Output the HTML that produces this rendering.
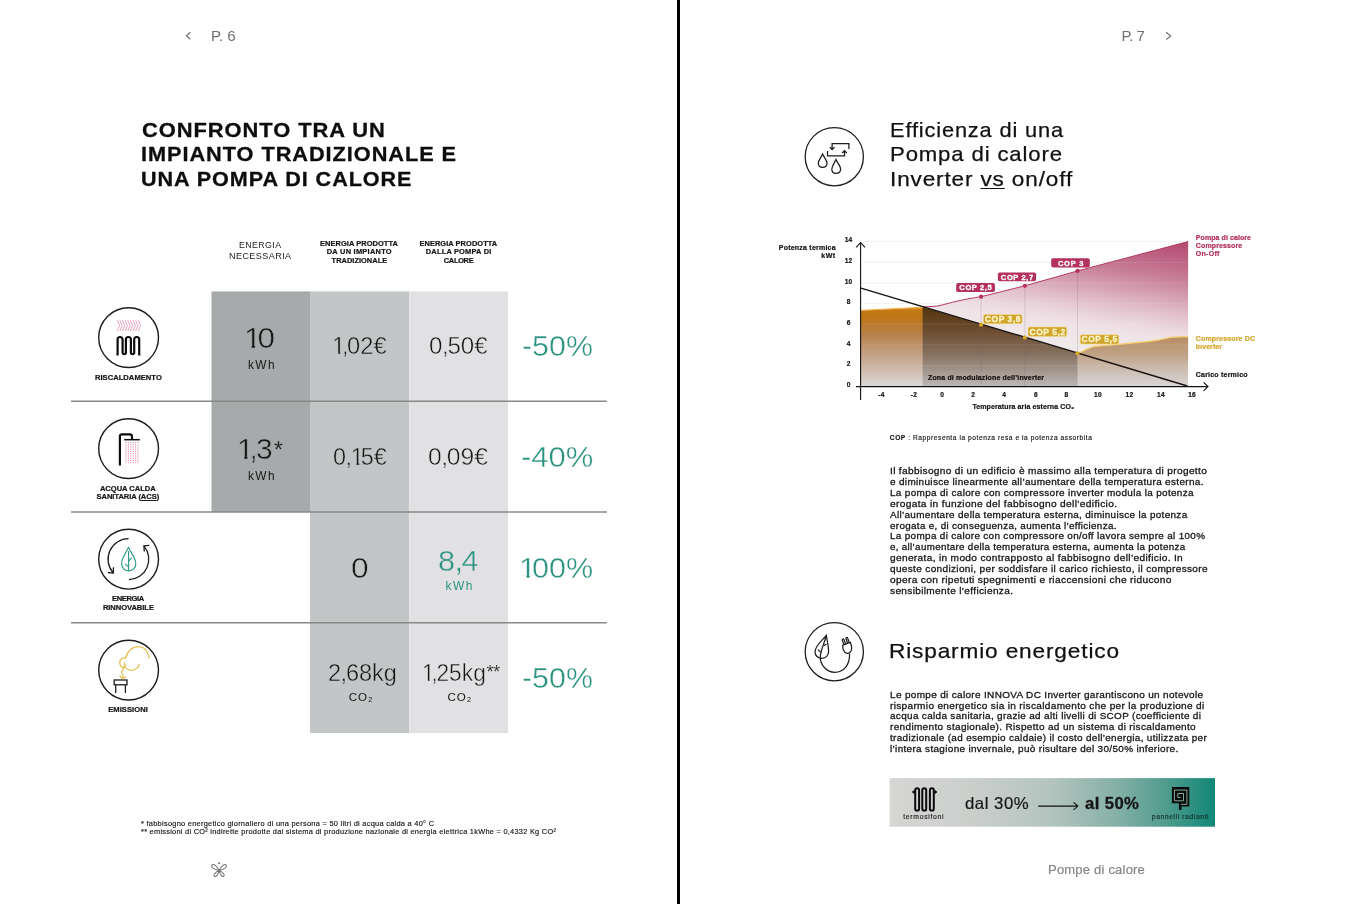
<!DOCTYPE html>
<html lang="it">
<head>
<meta charset="utf-8">
<title>Pompe di calore - Confronto</title>
<style>
html,body{margin:0;padding:0;background:#fff;}
body{width:1356px;height:904px;overflow:hidden;position:relative;font-family:"Liberation Sans",sans-serif;}
#pg{position:absolute;left:0;top:0;width:1356px;height:904px;overflow:hidden;background:#fff;}
#gfx{position:absolute;left:0;top:0;width:1356px;height:904px;}
.t{position:absolute;white-space:nowrap;margin:0;padding:0;font-family:"Liberation Sans",sans-serif;}
.o{position:relative;letter-spacing:-0.13em;}
.o::before,.o::after{content:"";position:absolute;bottom:0.172em;height:0.125em;background:var(--bg);}
.o::before{left:0.02em;width:0.226em;}
.o::after{left:0.346em;width:0.166em;}
.c{letter-spacing:-0.05em;margin-left:-0.02em;}
.u{text-decoration:underline;text-decoration-thickness:1px;text-underline-offset:1px;}
svg text{font-family:"Liberation Sans",sans-serif;}
</style>
</head>
<body>
<div id="pg">
<svg id="gfx" viewBox="0 0 1356 904" width="1356" height="904">
<defs>
<linearGradient id="gOr" gradientUnits="userSpaceOnUse" x1="0" y1="307" x2="0" y2="386">
<stop offset="0" stop-color="#f0a236"/><stop offset="0.04" stop-color="#c47a17"/><stop offset="0.12" stop-color="#bd7616"/><stop offset="0.35" stop-color="#b8824c"/><stop offset="0.62" stop-color="#c4a48a"/><stop offset="1" stop-color="#dcd8d6"/>
</linearGradient>
<linearGradient id="gDk" gradientUnits="userSpaceOnUse" x1="0" y1="306" x2="0" y2="386">
<stop offset="0" stop-color="#54320c"/><stop offset="0.3" stop-color="#6b4c2e"/><stop offset="0.6" stop-color="#85705f"/><stop offset="1" stop-color="#bcb8b6"/>
</linearGradient>
<linearGradient id="gPk" gradientUnits="userSpaceOnUse" x1="1188" y1="241" x2="1166" y2="387.7">
<stop offset="0" stop-color="#b4486f"/><stop offset="0.04" stop-color="#b64f75"/><stop offset="0.25" stop-color="#c67b95"/><stop offset="0.367" stop-color="#d39bae"/><stop offset="0.485" stop-color="#e0bcc8"/><stop offset="0.603" stop-color="#ebd8de"/><stop offset="0.673" stop-color="#efe3e6"/><stop offset="0.85" stop-color="#f0eaeb"/><stop offset="1" stop-color="#e9e4e3"/>
</linearGradient>
<linearGradient id="gTn" gradientUnits="userSpaceOnUse" x1="0" y1="336" x2="0" y2="386">
<stop offset="0" stop-color="#b88d62"/><stop offset="0.35" stop-color="#bfa184"/><stop offset="0.7" stop-color="#cdbfb4"/><stop offset="1" stop-color="#d9d5d3"/>
</linearGradient>
<linearGradient id="gBn" x1="0" y1="0" x2="1" y2="0">
<stop offset="0" stop-color="#d6d6d4"/><stop offset="0.25" stop-color="#cbcfcc"/><stop offset="0.5" stop-color="#b3c4be"/><stop offset="0.7" stop-color="#84b0a6"/><stop offset="0.85" stop-color="#4f9b8d"/><stop offset="1" stop-color="#128777"/>
</linearGradient>
</defs>
<!-- spine -->
<rect x="677" y="0" width="3" height="904" fill="#000"/>
<!-- table columns -->
<rect x="211.5" y="291.4" width="98.5" height="220.6" fill="#a7aaab"/>
<rect x="310" y="291.4" width="99.3" height="441.6" fill="#c3c6c7"/>
<rect x="409.3" y="291.4" width="98.7" height="441.6" fill="#e1e1e3"/>
<g stroke="#878888" stroke-width="1.6">
<line x1="71" y1="401.3" x2="606.9" y2="401.3"/><line x1="71" y1="512" x2="606.9" y2="512"/><line x1="71" y1="622.7" x2="606.9" y2="622.7"/>
</g>
<!-- nav chevrons -->
<g fill="none" stroke="#6f6f6f" stroke-width="1.2">
<path d="M190.4 32.2 L186.4 35.7 L190.4 39.2"/>
<path d="M1166.2 32.2 L1170.6 35.9 L1166.2 39.6"/>
</g>
<!-- icon circles left -->
<g fill="none" stroke="#1d1d1d" stroke-width="1.4">
<circle cx="128.6" cy="337.6" r="29.9"/><circle cx="128.6" cy="448.6" r="29.9"/><circle cx="128.6" cy="559.2" r="29.9"/><circle cx="128.6" cy="670.1" r="29.9"/>
</g>
<!-- icon 1 radiator -->
<path d="M116.4 354.3 H117.6 V339.5 A2.5 2.5 0 0 1 122.6 339.5 V352.6 A1.65 1.65 0 0 0 125.9 352.6 V339.5 A2.5 2.5 0 0 1 130.9 339.5 V352.6 A1.65 1.65 0 0 0 134.2 352.6 V339.5 A2.5 2.5 0 0 1 139.2 339.5 V354.3 H140.4" fill="none" stroke="#0c0c0c" stroke-width="2.2"/>
<path d="M117.20 320.2 L119.60 325.6 L117.20 331 M119.82 320.2 L122.22 325.6 L119.82 331 M122.44 320.2 L124.84 325.6 L122.44 331 M125.06 320.2 L127.46 325.6 L125.06 331 M127.68 320.2 L130.08 325.6 L127.68 331 M130.30 320.2 L132.70 325.6 L130.30 331 M132.92 320.2 L135.32 325.6 L132.92 331 M135.54 320.2 L137.94 325.6 L135.54 331 M138.16 320.2 L140.56 325.6 L138.16 331" fill="none" stroke="#df80ae" stroke-width="0.75"/>
<!-- icon 2 shower -->
<path d="M119.9 465.4 V436.6 Q119.9 434.4 122.1 434.4 H129.8 Q132 434.4 132 436.6 V439.4" fill="none" stroke="#0c0c0c" stroke-width="2.2"/>
<path d="M124.2 439.7 H139.8" fill="none" stroke="#0c0c0c" stroke-width="1.5"/>
<path d="M126 442 V463.2 M128.4 442 V463.2 M130.8 442 V463.2 M133.2 442 V463.2 M135.6 442 V463.2 M138 442 V463.2" fill="none" stroke="#de7ba4" stroke-width="0.9" stroke-dasharray="1 0.8"/>
<!-- icon 3 renewable -->
<g fill="none" stroke="#1d1d1d" stroke-width="1.3">
<path d="M128.6 538.7 A20.5 20.5 0 0 0 113.1 572.7"/><path d="M107.9 572.5 L113.3 573.1 L113.5 567.3"/>
<path d="M128.9 579.7 A20.5 20.5 0 0 0 144.1 546.2"/><path d="M149.3 545.4 L143.9 545.8 L144.3 551.5"/>
</g>
<g fill="none" stroke="#2f9a86" stroke-width="1.15">
<path d="M128.5 547.6 C126 552.5 121.6 558 121.6 563.8 C121.6 568 124.6 570.9 128.6 570.9 C132.6 570.9 135.8 568 135.8 563.8 C135.8 558 131 552.5 128.5 547.6 Z"/>
<path d="M128.6 551 V570.9 M128.6 561.5 L131.6 557.6 M128.6 567.2 L125.3 563.8"/>
</g>
<!-- icon 4 emissions -->
<g fill="none" stroke="#1d1d1d" stroke-width="1.3">
<rect x="114.2" y="680" width="12.8" height="4.8"/><path d="M115.7 684.8 V693 M125.4 684.8 V693"/>
</g>
<g fill="none" stroke="#e3bd4c" stroke-width="1.25">
<path d="M149.1 658.4 C148.6 651.5 144.5 646.6 138.4 646.6 C132.6 646.6 127.8 650.6 125.6 658 C122.4 657.6 119.7 659.6 119.7 662.6 C119.7 665.6 121.8 667.6 124.2 667.6"/>
<path d="M124.3 662.2 C124.6 667 127.3 670.3 131.3 670.3 C135.6 670.3 138.8 667.3 139.4 663.8"/>
<path d="M125 664.6 C125 668.5 121.7 669.6 121.7 672.4 C121.7 674.6 123.6 675.2 123.2 677.2 M119.6 675.8 L122.6 678.6 L126 676.4"/>
</g>
<!-- right icon circles -->
<g fill="none" stroke="#1d1d1d" stroke-width="1.3">
<circle cx="834.3" cy="156.7" r="29.1"/><circle cx="834.3" cy="651.7" r="29.1"/>
</g>
<!-- right icon 1 -->
<g fill="none" stroke="#1d1d1d" stroke-width="1.25">
<path d="M848.9 148.9 V143.6 H832.1 V149.4 M829.8 147.1 L832.1 149.5 L834.5 147.1"/>
<path d="M827.5 150.9 V155.8 H844.5 V150.7 M842.2 153 L844.5 150.6 L846.8 153"/>
<path d="M822.6 154.1 C821.4 157 818.3 160.2 818.3 163.2 C818.3 165.7 820.2 167.3 822.6 167.3 C825 167.3 827 165.7 827 163.2 C827 160.2 823.8 157 822.6 154.1 Z"/>
<path d="M835.9 159.6 C834.7 162.6 831.8 166 831.8 169.2 C831.8 171.7 833.6 173.3 836.1 173.3 C838.6 173.3 840.6 171.7 840.6 169.2 C840.6 166 837.2 162.6 835.9 159.6 Z"/>
</g>
<!-- right icon 2 -->
<g fill="none" stroke="#1d1d1d" stroke-width="1.25">
<path d="M826.3 635.3 C823 640 815 645.5 815 651.8 C815 655.6 818 658.3 821.9 658.3 C825.8 658.3 828.6 655.4 828.6 651.5 C828.6 646.5 827 640 826.3 635.3 Z"/>
<path d="M826 636.5 C824.5 643 820.6 650 820.3 657 C820 664.5 826.5 672.3 834.8 672.3 C843.6 672.3 849.8 665.5 849.6 653.5"/>
<path d="M823.6 645.8 L826.5 644 M820.9 652.4 L817.9 649.6"/>
<path d="M842.8 645.2 L850.3 642.3 C851.6 645.5 852 648.5 851.2 650.6 C850.4 652.6 848.3 653.6 846.3 653.1 C844.2 652.5 842.3 648.8 842.8 645.2 Z"/>
<path d="M843.9 644.6 L842.3 640.2 C841.9 639 843.6 638.4 844 639.6 L845.6 644 M847.6 643.2 L846 638.8 C845.6 637.6 847.3 637 847.7 638.2 L849.3 642.6"/>
</g>
<!-- butterfly logo -->
<g fill="none" stroke="#707070" stroke-width="1.05">
<path d="M219.1 870.4 C217 866.2 214 863.8 212.4 864.8 C210.6 866 212.4 869.6 219.1 870.4 C225.8 869.6 227.6 866 225.8 864.8 C224.2 863.8 221.2 866.2 219.1 870.4 Z"/>
<path d="M219.1 870.4 C218.2 874.4 216.2 877 214.7 876.5 C212.9 875.9 214.4 872.4 219.1 870.4 C223.8 872.4 225.3 875.9 223.5 876.5 C222 877 220 874.4 219.1 870.4 Z"/>
</g>
<circle cx="219.1" cy="863.2" r="1" fill="#707070"/>
<!-- CHART -->
<g stroke="#ededed" stroke-width="0.8">
<line x1="862" y1="241.6" x2="1188" y2="241.6"/><line x1="862" y1="262.3" x2="1188" y2="262.3"/><line x1="862" y1="283" x2="1188" y2="283"/><line x1="862" y1="303.6" x2="1188" y2="303.6"/><line x1="862" y1="324.2" x2="1188" y2="324.2"/><line x1="862" y1="344.8" x2="1188" y2="344.8"/><line x1="862" y1="365.4" x2="1188" y2="365.4"/>
</g>
<!-- pink area -->
<path d="M922.6 306.9 C930 306.6 936 306.4 940 305.5 C950 303 962 299.4 981.1 296.7 L1024.9 285.8 L1077.6 270.9 L1188.1 241.6 V386 H1183 Z" fill="url(#gPk)"/>
<!-- tan area under inverter line (right) -->
<path d="M1077.4 353.4 C1082 352 1088 347.8 1095 346.4 L1126.4 343.7 L1148.5 341.5 L1159.6 339.8 L1170.6 337.4 L1181 336.8 L1188.1 336.8 V386 H1077.4 Z" fill="url(#gTn)"/>
<!-- orange area left -->
<path d="M861 310.5 L923.4 307.3 V386 H861 Z" fill="url(#gOr)"/>
<!-- dark modulation zone -->
<path d="M922.6 306.9 L1077.4 353.4 V386 H922.6 Z" fill="url(#gDk)"/>
<!-- faint gridlines over fills -->
<g stroke="#ffffff" stroke-opacity="0.12" stroke-width="0.8">
<line x1="862" y1="262.3" x2="1188" y2="262.3"/><line x1="862" y1="283" x2="1188" y2="283"/><line x1="862" y1="303.6" x2="1188" y2="303.6"/><line x1="862" y1="324.2" x2="1188" y2="324.2"/><line x1="862" y1="344.8" x2="1188" y2="344.8"/><line x1="862" y1="365.4" x2="1188" y2="365.4"/>
</g>
<!-- lines -->
<path d="M924 306.9 C931 306.6 936 306.4 940 305.5 C950 303 962 299.4 981.1 296.7 L1024.9 285.8 L1077.6 270.9 L1188.1 241.6" fill="none" stroke="#b23a64" stroke-width="1"/>
<path d="M861 310.3 L922.6 307.2" fill="none" stroke="#f5ae42" stroke-width="0.9"/>
<path d="M1077.4 353.4 C1082 352 1088 347.8 1095 346.4 L1126.4 343.7 L1148.5 341.5 L1159.6 339.8 L1170.6 337.4 L1181 336.8 L1188.1 336.8" fill="none" stroke="#f3cd6c" stroke-width="1.3"/>
<g stroke="#7d6a70" stroke-opacity="0.8" stroke-width="0.55" stroke-dasharray="0.8 0.8" fill="none">
<line x1="981.1" y1="297" x2="981.1" y2="386"/><line x1="1024.9" y1="286" x2="1024.9" y2="386"/><line x1="1077.5" y1="271" x2="1077.5" y2="386"/>
</g>
<path d="M861 288.1 L1187.4 386" fill="none" stroke="#1a1310" stroke-width="1.4"/>
<!-- axes -->
<g fill="none" stroke="#111" stroke-width="1.1">
<path d="M860.6 242.6 V400 M856.2 247.4 L860.6 242.5 L865 247.4"/>
<path d="M856 386.6 H1207.8 M1203.6 382.4 L1208 386.6 L1203.6 390.8"/>
</g>
<!-- dots -->
<g fill="#b3305f"><circle cx="981.1" cy="296.7" r="2.1"/><circle cx="1024.9" cy="285.8" r="2.1"/><circle cx="1077.6" cy="270.9" r="2.1"/></g>
<g fill="#d9a928"><circle cx="981.1" cy="324.7" r="2.1"/><circle cx="1024.9" cy="337.5" r="2.1"/><circle cx="1077.4" cy="353.3" r="2.1"/></g>
<!-- COP pills -->
<g fill="#b3305f">
<rect x="956.2" y="283.1" width="38.7" height="8.9" rx="1.8"/><rect x="997.9" y="272.4" width="38.2" height="8.9" rx="1.8"/><rect x="1051.2" y="258.2" width="38.6" height="9.2" rx="1.8"/>
</g>
<g fill="#cfa42a" stroke="#f1dc92" stroke-width="0.7">
<rect x="983.4" y="314.4" width="38.7" height="9.4" rx="1.8"/><rect x="1028" y="326.9" width="38.8" height="9.5" rx="1.8"/><rect x="1080.2" y="334.7" width="38.6" height="9.4" rx="1.8"/>
</g>
<!-- BANNER -->
<rect x="889.6" y="778.1" width="325.4" height="48.6" fill="url(#gBn)"/>
<g fill="none" stroke="#0b0b0b" stroke-width="2">
<rect x="915.2" y="788.2" width="3.9" height="22.4" rx="1.95"/><rect x="922.3" y="788.2" width="3.9" height="22.4" rx="1.95"/><rect x="929.9" y="788.2" width="3.9" height="22.4" rx="1.95"/>
</g>
<path d="M912.2 792 L914.4 790.4 V793.6 Z M937 792 L934.8 790.4 V793.6 Z" fill="#0b0b0b" stroke="#0b0b0b" stroke-width="0.8"/>
<path d="M1038.2 806.1 H1077.6 M1073.6 802.3 L1077.8 806.1 L1073.6 809.9" fill="none" stroke="#111" stroke-width="1.1"/>
<path d="M1171.9 787.1 H1189.3 V806.5 H1181.6 V809.3 Q1181.6 809.9 1181 809.9 H1179.5 Q1178.9 809.9 1178.9 809.3 V803.3 H1171.9 Z" fill="#070b0a"/>
<path d="M1180.9 804.3 H1186.9 V790.1 H1174.4 V800.8 H1183.5 V793.5 H1177.8 V797.4 H1180.7" fill="none" stroke="#8fb2a8" stroke-width="0.95"/>

</svg>
<div class="t" style='left:211.00px;top:27.00px;font-size:15.07px;line-height:17.00px;letter-spacing:-0.058px;color:#6f6f6f;'>P. 6</div>
<div class="t" style='left:141.60px;top:118.00px;font-size:20.71px;line-height:23.00px;letter-spacing:0.900px;color:#0d0d0d;font-weight:700;transform:scaleX(1.0573);transform-origin:0 0;-webkit-text-stroke:0.3px;'>CONFRONTO TRA UN</div>
<div class="t" style='left:140.55px;top:142.00px;font-size:20.71px;line-height:23.00px;letter-spacing:0.900px;color:#0d0d0d;font-weight:700;transform:scaleX(1.0501);transform-origin:0 0;-webkit-text-stroke:0.3px;'>IMPIANTO TRADIZIONALE E</div>
<div class="t" style='left:140.76px;top:167.00px;font-size:20.71px;line-height:23.00px;letter-spacing:0.900px;color:#0d0d0d;font-weight:700;transform:scaleX(1.0433);transform-origin:0 0;-webkit-text-stroke:0.3px;'>UNA POMPA DI CALORE</div>
<div class="t" style='left:238.85px;top:239.00px;font-size:9.71px;line-height:11.00px;letter-spacing:0.450px;color:#222;transform:scaleX(0.9062);transform-origin:0 0;'>ENERGIA</div>
<div class="t" style='left:228.80px;top:250.00px;font-size:9.71px;line-height:11.00px;letter-spacing:0.450px;color:#222;transform:scaleX(0.9326);transform-origin:0 0;'>NECESSARIA</div>
<div class="t" style='left:320.10px;top:239.00px;font-size:7.43px;line-height:9.00px;letter-spacing:0.069px;color:#161616;font-weight:700;-webkit-text-stroke:0.22px;'>ENERGIA PRODOTTA</div>
<div class="t" style='left:326.70px;top:247.00px;font-size:7.43px;line-height:9.00px;letter-spacing:0.268px;color:#161616;font-weight:700;-webkit-text-stroke:0.22px;'>DA UN IMPIANTO</div>
<div class="t" style='left:331.60px;top:256.00px;font-size:7.43px;line-height:9.00px;letter-spacing:0.028px;color:#161616;font-weight:700;-webkit-text-stroke:0.22px;'>TRADIZIONALE</div>
<div class="t" style='left:419.45px;top:239.00px;font-size:7.43px;line-height:9.00px;letter-spacing:0.069px;color:#161616;font-weight:700;-webkit-text-stroke:0.22px;'>ENERGIA PRODOTTA</div>
<div class="t" style='left:425.75px;top:247.00px;font-size:7.43px;line-height:9.00px;letter-spacing:0.210px;color:#161616;font-weight:700;-webkit-text-stroke:0.22px;'>DALLA POMPA DI</div>
<div class="t" style='left:443.80px;top:256.00px;font-size:7.43px;line-height:9.00px;letter-spacing:-0.306px;color:#161616;font-weight:700;-webkit-text-stroke:0.22px;'>CALORE</div>
<div class="t" style='left:244.32px;top:322.00px;font-size:28.84px;line-height:32.00px;letter-spacing:0.000px;color:#161616;transform:scaleX(1.0916);transform-origin:0 0;-webkit-text-stroke:0.50px #a7aaab;--bg:#a7aaab;'><span class="o">1</span>0</div>
<div class="t" style='left:248.00px;top:358.00px;font-size:11.88px;line-height:14.00px;letter-spacing:1.427px;color:#161616;'>kWh</div>
<div class="t" style='left:331.67px;top:333.00px;font-size:23.04px;line-height:26.00px;letter-spacing:0.000px;color:#161616;transform:scaleX(1.0303);transform-origin:0 0;-webkit-text-stroke:0.45px #c3c6c7;--bg:#c3c6c7;'><span class="o">1</span><span class="c">,</span>02€</div>
<div class="t" style='left:429.30px;top:333.00px;font-size:23.04px;line-height:26.00px;letter-spacing:0.000px;color:#161616;transform:scaleX(1.0478);transform-origin:0 0;-webkit-text-stroke:0.45px #e1e1e3;--bg:#e1e1e3;'>0<span class="c">,</span>50€</div>
<div class="t" style='left:522.04px;top:330.00px;font-size:28.70px;line-height:32.00px;letter-spacing:0.000px;color:#2a927f;transform:scaleX(1.0586);transform-origin:0 0;-webkit-text-stroke:0.40px #ffffff;--bg:#ffffff;'>-50%</div>
<div class="t" style='left:237.32px;top:433.00px;font-size:28.84px;line-height:32.00px;letter-spacing:0.000px;color:#161616;transform:scaleX(1.0392);transform-origin:0 0;-webkit-text-stroke:0.50px #a7aaab;--bg:#a7aaab;'><span class="o">1</span><span class="c">,</span>3</div>
<div class="t" style='left:273.80px;top:436.00px;font-size:24.00px;line-height:27.00px;letter-spacing:0.000px;color:#161616;-webkit-text-stroke:0.25px #a7aaab;'>*</div>
<div class="t" style='left:247.90px;top:469.00px;font-size:11.88px;line-height:14.00px;letter-spacing:1.527px;color:#161616;'>kWh</div>
<div class="t" style='left:332.80px;top:444.00px;font-size:23.04px;line-height:26.00px;letter-spacing:0.000px;color:#161616;transform:scaleX(1.0147);transform-origin:0 0;-webkit-text-stroke:0.45px #c3c6c7;--bg:#c3c6c7;'>0<span class="c">,</span><span class="o">1</span>5€</div>
<div class="t" style='left:428.20px;top:444.00px;font-size:23.04px;line-height:26.00px;letter-spacing:0.000px;color:#161616;transform:scaleX(1.0709);transform-origin:0 0;-webkit-text-stroke:0.45px #e1e1e3;--bg:#e1e1e3;'>0<span class="c">,</span>09€</div>
<div class="t" style='left:521.22px;top:441.00px;font-size:28.70px;line-height:32.00px;letter-spacing:0.000px;color:#2a927f;transform:scaleX(1.0815);transform-origin:0 0;-webkit-text-stroke:0.40px #ffffff;--bg:#ffffff;'>-40%</div>
<div class="t" style='left:351.20px;top:552.00px;font-size:28.84px;line-height:32.00px;letter-spacing:0.000px;color:#161616;transform:scaleX(1.1000);transform-origin:0 0;-webkit-text-stroke:0.50px #c3c6c7;--bg:#c3c6c7;'>0</div>
<div class="t" style='left:437.93px;top:545.00px;font-size:28.84px;line-height:32.00px;letter-spacing:0.000px;color:#2a927f;transform:scaleX(1.0669);transform-origin:0 0;-webkit-text-stroke:0.40px #e1e1e3;--bg:#e1e1e3;'>8<span class="c">,</span>4</div>
<div class="t" style='left:445.60px;top:579.00px;font-size:11.88px;line-height:14.00px;letter-spacing:1.527px;color:#2a927f;'>kWh</div>
<div class="t" style='left:519.47px;top:552.00px;font-size:28.70px;line-height:32.00px;letter-spacing:0.000px;color:#2a927f;transform:scaleX(1.0650);transform-origin:0 0;-webkit-text-stroke:0.40px #ffffff;--bg:#ffffff;'><span class="o">1</span>00%</div>
<div class="t" style='left:328.21px;top:659.00px;font-size:23.77px;line-height:27.00px;letter-spacing:0.000px;color:#161616;transform:scaleX(0.9891);transform-origin:0 0;-webkit-text-stroke:0.45px #c3c6c7;--bg:#c3c6c7;'>2<span class="c">,</span>68kg</div>
<div class="t" style='left:348.80px;top:691.00px;font-size:11.59px;line-height:12.00px;letter-spacing:0.866px;color:#161616;'>CO₂</div>
<div class="t" style='left:421.84px;top:659.00px;font-size:23.77px;line-height:27.00px;letter-spacing:0.000px;color:#161616;transform:scaleX(0.9573);transform-origin:0 0;-webkit-text-stroke:0.45px #e1e1e3;--bg:#e1e1e3;'><span class="o">1</span><span class="c">,</span>25kg</div>
<div class="t" style='left:486.40px;top:661.00px;font-size:18.50px;line-height:21.00px;letter-spacing:-0.699px;color:#161616;-webkit-text-stroke:0.15px #e1e1e3;'>**</div>
<div class="t" style='left:447.60px;top:691.00px;font-size:11.59px;line-height:12.00px;letter-spacing:0.866px;color:#161616;'>CO₂</div>
<div class="t" style='left:522.04px;top:662.00px;font-size:28.70px;line-height:32.00px;letter-spacing:0.000px;color:#2a927f;transform:scaleX(1.0586);transform-origin:0 0;-webkit-text-stroke:0.40px #ffffff;--bg:#ffffff;'>-50%</div>
<div class="t" style='left:94.90px;top:373.00px;font-size:7.57px;line-height:9.00px;letter-spacing:0.053px;color:#161616;font-weight:700;-webkit-text-stroke:0.22px;'>RISCALDAMENTO</div>
<div class="t" style='left:99.90px;top:484.00px;font-size:7.57px;line-height:9.00px;letter-spacing:-0.023px;color:#161616;font-weight:700;-webkit-text-stroke:0.22px;'>ACQUA CALDA</div>
<div class="t" style='left:96.60px;top:492.00px;font-size:7.57px;line-height:9.00px;letter-spacing:-0.064px;color:#161616;font-weight:700;-webkit-text-stroke:0.22px;'>SANITARIA (<span class="u">ACS</span>)</div>
<div class="t" style='left:112.00px;top:594.00px;font-size:7.57px;line-height:9.00px;letter-spacing:-0.382px;color:#161616;font-weight:700;-webkit-text-stroke:0.22px;'>ENERGIA</div>
<div class="t" style='left:102.90px;top:603.00px;font-size:7.57px;line-height:9.00px;letter-spacing:-0.049px;color:#161616;font-weight:700;-webkit-text-stroke:0.22px;'>RINNOVABILE</div>
<div class="t" style='left:108.20px;top:705.00px;font-size:7.57px;line-height:9.00px;letter-spacing:0.065px;color:#161616;font-weight:700;-webkit-text-stroke:0.22px;'>EMISSIONI</div>
<div class="t" style='left:141.20px;top:819.00px;font-size:7.20px;line-height:9.00px;letter-spacing:0.250px;color:#161616;transform:scaleX(1.0348);transform-origin:0 0;-webkit-text-stroke:0.15px;'>* fabbisogno energetico giornaliero di una persona = 50 litri di acqua calda a 40° C</div>
<div class="t" style='left:141.20px;top:827.00px;font-size:7.20px;line-height:9.00px;letter-spacing:0.250px;color:#161616;transform:scaleX(1.0301);transform-origin:0 0;-webkit-text-stroke:0.15px;'>** emissioni di CO² indirette prodotte dal sistema di produzione nazionale di energia elettrica 1kWhe = 0,4332 Kg CO²</div>
<div class="t" style='left:1121.50px;top:27.00px;font-size:15.07px;line-height:17.00px;letter-spacing:-0.458px;color:#6f6f6f;'>P. 7</div>
<div class="t" style='left:889.75px;top:118.00px;font-size:20.87px;line-height:23.00px;letter-spacing:0.800px;color:#111;transform:scaleX(1.0462);transform-origin:0 0;-webkit-text-stroke:0.25px;'>Efficienza di una</div>
<div class="t" style='left:889.74px;top:142.00px;font-size:20.87px;line-height:23.00px;letter-spacing:0.800px;color:#111;transform:scaleX(1.0622);transform-origin:0 0;-webkit-text-stroke:0.25px;'>Pompa di calore</div>
<div class="t" style='left:889.72px;top:167.00px;font-size:20.87px;line-height:23.00px;letter-spacing:0.800px;color:#111;transform:scaleX(1.0806);transform-origin:0 0;-webkit-text-stroke:0.25px;'>Inverter <span class="u" style="text-decoration-thickness:1.3px;text-underline-offset:2px">vs</span> on/off</div>
<div class="t" style='left:889.80px;top:434.00px;font-size:6.60px;line-height:7.00px;letter-spacing:0.568px;color:#161616;-webkit-text-stroke:0.15px;'><b>COP</b> : Rappresenta la potenza resa e la potenza assorbita</div>
<div class="t" style='left:889.80px;top:466.00px;font-size:9.10px;line-height:10.00px;letter-spacing:0.300px;color:#161616;transform:scaleX(1.1127);transform-origin:0 0;-webkit-text-stroke:0.28px;'>Il fabbisogno di un edificio è massimo alla temperatura di progetto</div>
<div class="t" style='left:889.80px;top:477.00px;font-size:9.10px;line-height:10.00px;letter-spacing:0.300px;color:#161616;transform:scaleX(1.0977);transform-origin:0 0;-webkit-text-stroke:0.28px;'>e diminuisce linearmente all’aumentare della temperatura esterna.</div>
<div class="t" style='left:889.80px;top:488.00px;font-size:9.10px;line-height:10.00px;letter-spacing:0.300px;color:#161616;transform:scaleX(1.0947);transform-origin:0 0;-webkit-text-stroke:0.28px;'>La pompa di calore con compressore inverter modula la potenza</div>
<div class="t" style='left:889.80px;top:499.00px;font-size:9.10px;line-height:10.00px;letter-spacing:0.300px;color:#161616;transform:scaleX(1.1183);transform-origin:0 0;-webkit-text-stroke:0.28px;'>erogata in funzione del fabbisogno dell’edificio.</div>
<div class="t" style='left:889.80px;top:510.00px;font-size:9.10px;line-height:10.00px;letter-spacing:0.300px;color:#161616;transform:scaleX(1.0903);transform-origin:0 0;-webkit-text-stroke:0.28px;'>All’aumentare della temperatura esterna, diminuisce la potenza</div>
<div class="t" style='left:889.80px;top:521.00px;font-size:9.10px;line-height:10.00px;letter-spacing:0.300px;color:#161616;transform:scaleX(1.0832);transform-origin:0 0;-webkit-text-stroke:0.28px;'>erogata e, di conseguenza, aumenta l’efficienza.</div>
<div class="t" style='left:889.80px;top:531.00px;font-size:9.10px;line-height:10.00px;letter-spacing:0.300px;color:#161616;transform:scaleX(1.0904);transform-origin:0 0;-webkit-text-stroke:0.28px;'>La pompa di calore con compressore on/off lavora sempre al 100%</div>
<div class="t" style='left:889.80px;top:542.00px;font-size:9.10px;line-height:10.00px;letter-spacing:0.300px;color:#161616;transform:scaleX(1.0766);transform-origin:0 0;-webkit-text-stroke:0.28px;'>e, all’aumentare della temperatura esterna, aumenta la potenza</div>
<div class="t" style='left:889.80px;top:553.00px;font-size:9.10px;line-height:10.00px;letter-spacing:0.300px;color:#161616;transform:scaleX(1.1132);transform-origin:0 0;-webkit-text-stroke:0.28px;'>generata, in modo contrapposto al fabbisogno dell’edificio. In</div>
<div class="t" style='left:889.80px;top:564.00px;font-size:9.10px;line-height:10.00px;letter-spacing:0.300px;color:#161616;transform:scaleX(1.1054);transform-origin:0 0;-webkit-text-stroke:0.28px;'>queste condizioni, per soddisfare il carico richiesto, il compressore</div>
<div class="t" style='left:889.80px;top:575.00px;font-size:9.10px;line-height:10.00px;letter-spacing:0.300px;color:#161616;transform:scaleX(1.1185);transform-origin:0 0;-webkit-text-stroke:0.28px;'>opera con ripetuti spegnimenti e riaccensioni che riducono</div>
<div class="t" style='left:889.80px;top:586.00px;font-size:9.10px;line-height:10.00px;letter-spacing:0.300px;color:#161616;transform:scaleX(1.1105);transform-origin:0 0;-webkit-text-stroke:0.28px;'>sensibilmente l’efficienza.</div>
<div class="t" style='left:888.82px;top:639.00px;font-size:21.01px;line-height:23.00px;letter-spacing:0.800px;color:#111;transform:scaleX(1.0767);transform-origin:0 0;-webkit-text-stroke:0.25px;'>Risparmio energetico</div>
<div class="t" style='left:889.80px;top:690.00px;font-size:9.10px;line-height:10.00px;letter-spacing:0.300px;color:#161616;transform:scaleX(1.0985);transform-origin:0 0;-webkit-text-stroke:0.28px;'>Le pompe di calore INNOVA DC Inverter garantiscono un notevole</div>
<div class="t" style='left:889.80px;top:701.00px;font-size:9.10px;line-height:10.00px;letter-spacing:0.300px;color:#161616;transform:scaleX(1.1050);transform-origin:0 0;-webkit-text-stroke:0.28px;'>risparmio energetico sia in riscaldamento che per la produzione di</div>
<div class="t" style='left:889.80px;top:711.00px;font-size:9.10px;line-height:10.00px;letter-spacing:0.300px;color:#161616;transform:scaleX(1.0940);transform-origin:0 0;-webkit-text-stroke:0.28px;'>acqua calda sanitaria, grazie ad alti livelli di SCOP (coefficiente di</div>
<div class="t" style='left:889.80px;top:722.00px;font-size:9.10px;line-height:10.00px;letter-spacing:0.300px;color:#161616;transform:scaleX(1.1019);transform-origin:0 0;-webkit-text-stroke:0.28px;'>rendimento stagionale). Rispetto ad un sistema di riscaldamento</div>
<div class="t" style='left:889.80px;top:733.00px;font-size:9.10px;line-height:10.00px;letter-spacing:0.300px;color:#161616;transform:scaleX(1.0906);transform-origin:0 0;-webkit-text-stroke:0.28px;'>tradizionale (ad esempio caldaie) il costo dell’energia, utilizzata per</div>
<div class="t" style='left:889.80px;top:744.00px;font-size:9.10px;line-height:10.00px;letter-spacing:0.300px;color:#161616;transform:scaleX(1.0955);transform-origin:0 0;-webkit-text-stroke:0.28px;'>l’intera stagione invernale, può risultare del 30/50% inferiore.</div>
<div class="t" style='left:903.20px;top:813.00px;font-size:6.80px;line-height:7.00px;letter-spacing:0.717px;color:#222;-webkit-text-stroke:0.15px;'>termosifoni</div>
<div class="t" style='left:1151.80px;top:813.00px;font-size:6.80px;line-height:7.00px;letter-spacing:0.575px;color:#10332d;-webkit-text-stroke:0.15px;'>pannelli radianti</div>
<div class="t" style='left:965.20px;top:794.00px;font-size:16.50px;line-height:18.00px;letter-spacing:0.500px;color:#161616;transform:scaleX(1.0166);transform-origin:0 0;-webkit-text-stroke:0.2px;'>dal 30%</div>
<div class="t" style='left:1085.20px;top:794.00px;font-size:16.50px;line-height:18.00px;letter-spacing:0.400px;color:#161616;font-weight:700;transform:scaleX(1.0093);transform-origin:0 0;-webkit-text-stroke:0.3px;'>al 50%</div>
<div class="t" style='left:1048.00px;top:862.00px;font-size:13.00px;line-height:15.00px;letter-spacing:0.207px;color:#868686;-webkit-text-stroke:0.2px;'>Pompe di calore</div>
<div class="t" style='left:778.80px;top:244.00px;font-size:7.00px;line-height:7.00px;letter-spacing:0.222px;color:#161616;font-weight:700;-webkit-text-stroke:0.22px;'>Potenza termica</div>
<div class="t" style='left:821.30px;top:252.00px;font-size:7.00px;line-height:7.00px;letter-spacing:0.450px;color:#161616;font-weight:700;-webkit-text-stroke:0.22px;'>kWt</div>
<div class="t" style='left:844.78px;top:236.00px;font-size:6.57px;line-height:7.00px;letter-spacing:0.200px;color:#161616;font-weight:700;-webkit-text-stroke:0.22px;'>14</div>
<div class="t" style='left:844.78px;top:257.00px;font-size:6.57px;line-height:7.00px;letter-spacing:0.200px;color:#161616;font-weight:700;-webkit-text-stroke:0.22px;'>12</div>
<div class="t" style='left:844.78px;top:278.00px;font-size:6.57px;line-height:7.00px;letter-spacing:0.200px;color:#161616;font-weight:700;-webkit-text-stroke:0.22px;'>10</div>
<div class="t" style='left:846.70px;top:298.00px;font-size:6.57px;line-height:7.00px;letter-spacing:0.200px;color:#161616;font-weight:700;-webkit-text-stroke:0.22px;'>8</div>
<div class="t" style='left:846.70px;top:319.00px;font-size:6.57px;line-height:7.00px;letter-spacing:0.200px;color:#161616;font-weight:700;-webkit-text-stroke:0.22px;'>6</div>
<div class="t" style='left:846.70px;top:340.00px;font-size:6.57px;line-height:7.00px;letter-spacing:0.200px;color:#161616;font-weight:700;-webkit-text-stroke:0.22px;'>4</div>
<div class="t" style='left:846.70px;top:360.00px;font-size:6.57px;line-height:7.00px;letter-spacing:0.200px;color:#161616;font-weight:700;-webkit-text-stroke:0.22px;'>2</div>
<div class="t" style='left:846.70px;top:381.00px;font-size:6.57px;line-height:7.00px;letter-spacing:0.200px;color:#161616;font-weight:700;-webkit-text-stroke:0.22px;'>0</div>
<div class="t" style='left:878.31px;top:391.00px;font-size:6.57px;line-height:7.00px;letter-spacing:0.200px;color:#161616;font-weight:700;-webkit-text-stroke:0.22px;'>-4</div>
<div class="t" style='left:910.81px;top:391.00px;font-size:6.57px;line-height:7.00px;letter-spacing:0.200px;color:#161616;font-weight:700;-webkit-text-stroke:0.22px;'>-2</div>
<div class="t" style='left:940.30px;top:391.00px;font-size:6.57px;line-height:7.00px;letter-spacing:0.200px;color:#161616;font-weight:700;-webkit-text-stroke:0.22px;'>0</div>
<div class="t" style='left:971.20px;top:391.00px;font-size:6.57px;line-height:7.00px;letter-spacing:0.200px;color:#161616;font-weight:700;-webkit-text-stroke:0.22px;'>2</div>
<div class="t" style='left:1002.30px;top:391.00px;font-size:6.57px;line-height:7.00px;letter-spacing:0.200px;color:#161616;font-weight:700;-webkit-text-stroke:0.22px;'>4</div>
<div class="t" style='left:1034.10px;top:391.00px;font-size:6.57px;line-height:7.00px;letter-spacing:0.200px;color:#161616;font-weight:700;-webkit-text-stroke:0.22px;'>6</div>
<div class="t" style='left:1064.50px;top:391.00px;font-size:6.57px;line-height:7.00px;letter-spacing:0.200px;color:#161616;font-weight:700;-webkit-text-stroke:0.22px;'>8</div>
<div class="t" style='left:1094.08px;top:391.00px;font-size:6.57px;line-height:7.00px;letter-spacing:0.200px;color:#161616;font-weight:700;-webkit-text-stroke:0.22px;'>10</div>
<div class="t" style='left:1125.58px;top:391.00px;font-size:6.57px;line-height:7.00px;letter-spacing:0.200px;color:#161616;font-weight:700;-webkit-text-stroke:0.22px;'>12</div>
<div class="t" style='left:1157.08px;top:391.00px;font-size:6.57px;line-height:7.00px;letter-spacing:0.200px;color:#161616;font-weight:700;-webkit-text-stroke:0.22px;'>14</div>
<div class="t" style='left:1188.28px;top:391.00px;font-size:6.57px;line-height:7.00px;letter-spacing:0.200px;color:#161616;font-weight:700;-webkit-text-stroke:0.22px;'>16</div>
<div class="t" style='left:928.00px;top:374.00px;font-size:7.00px;line-height:7.00px;letter-spacing:0.150px;color:#15100c;font-weight:700;-webkit-text-stroke:0.22px;'>Zona di modulazione dell’inverter</div>
<div class="t" style='left:972.40px;top:403.00px;font-size:7.00px;line-height:7.00px;letter-spacing:0.112px;color:#161616;font-weight:700;-webkit-text-stroke:0.22px;'>Temperatura aria esterna CO₂</div>
<div class="t" style='left:1195.80px;top:234.00px;font-size:7.00px;line-height:7.00px;letter-spacing:0.080px;color:#b3305f;font-weight:700;-webkit-text-stroke:0.22px;'>Pompa di calore</div>
<div class="t" style='left:1195.80px;top:242.00px;font-size:7.00px;line-height:7.00px;letter-spacing:0.127px;color:#b3305f;font-weight:700;-webkit-text-stroke:0.22px;'>Compressore</div>
<div class="t" style='left:1195.80px;top:250.00px;font-size:7.00px;line-height:7.00px;letter-spacing:0.294px;color:#b3305f;font-weight:700;-webkit-text-stroke:0.22px;'>On-Off</div>
<div class="t" style='left:1195.80px;top:335.00px;font-size:7.00px;line-height:7.00px;letter-spacing:0.152px;color:#d3a529;font-weight:700;-webkit-text-stroke:0.22px;'>Compressore DC</div>
<div class="t" style='left:1195.80px;top:343.00px;font-size:7.00px;line-height:7.00px;letter-spacing:0.078px;color:#d3a529;font-weight:700;-webkit-text-stroke:0.22px;'>Inverter</div>
<div class="t" style='left:1195.80px;top:371.00px;font-size:7.00px;line-height:7.00px;letter-spacing:0.212px;color:#161616;font-weight:700;-webkit-text-stroke:0.22px;'>Carico termico</div>
<div class="t" style='left:959.35px;top:283.00px;font-size:7.57px;line-height:9.00px;letter-spacing:0.584px;color:#fff;font-weight:700;-webkit-text-stroke:0.3px;'>COP 2,5</div>
<div class="t" style='left:1000.85px;top:273.00px;font-size:7.57px;line-height:9.00px;letter-spacing:0.584px;color:#fff;font-weight:700;-webkit-text-stroke:0.3px;'>COP 2,7</div>
<div class="t" style='left:1057.90px;top:259.00px;font-size:7.57px;line-height:9.00px;letter-spacing:0.728px;color:#fff;font-weight:700;-webkit-text-stroke:0.3px;'>COP 3</div>
<div class="t" style='left:984.90px;top:314.00px;font-size:8.43px;line-height:10.00px;letter-spacing:0.573px;color:#fdf4c8;font-weight:700;-webkit-text-stroke:0.3px;'>COP 3,8</div>
<div class="t" style='left:1029.50px;top:327.00px;font-size:8.43px;line-height:10.00px;letter-spacing:0.573px;color:#fdf4c8;font-weight:700;-webkit-text-stroke:0.3px;'>COP 5,2</div>
<div class="t" style='left:1081.50px;top:334.00px;font-size:8.43px;line-height:10.00px;letter-spacing:0.573px;color:#fdf4c8;font-weight:700;-webkit-text-stroke:0.3px;'>COP 5,5</div>
</div>
</body>
</html>
